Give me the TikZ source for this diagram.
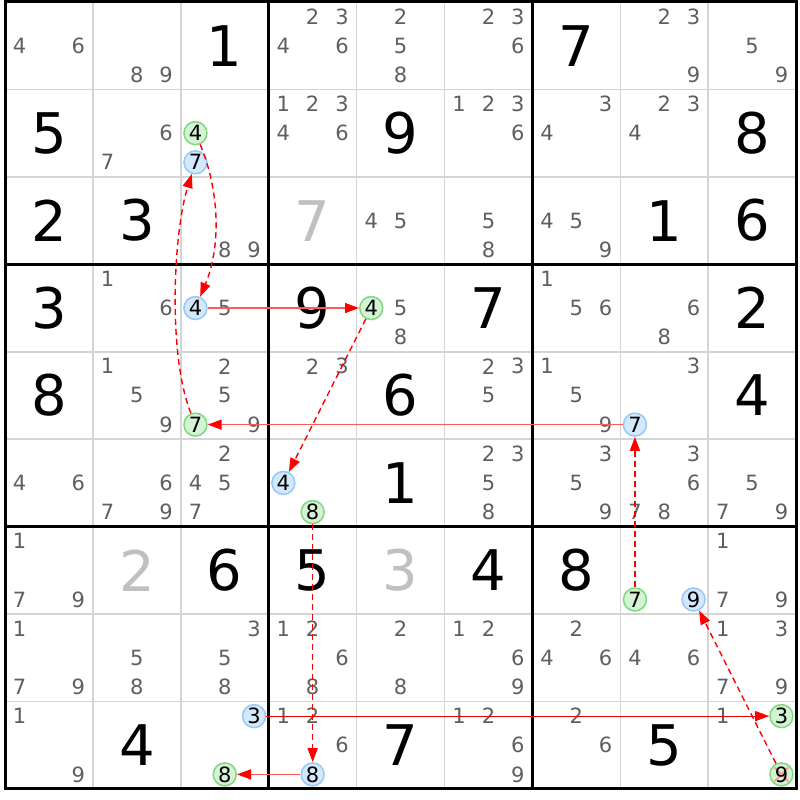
\documentclass[tikz,border=0pt]{standalone}
\usepackage{fontspec}
\setmainfont{DejaVu Sans}
\usetikzlibrary{arrows.meta}
\definecolor{candgray}{HTML}{5F5F5F}
\definecolor{givengray}{HTML}{C0C0C0}
\definecolor{gridgray}{HTML}{D4D4D4}
\definecolor{gfill}{HTML}{D4F2D4}
\definecolor{gline}{HTML}{80D880}
\definecolor{bfill}{HTML}{D4E8FC}
\definecolor{bline}{HTML}{96C8F8}
\definecolor{linkred}{HTML}{FF5A5A}
\definecolor{xred}{HTML}{F2A0A0}
\newcommand\sdGX{5}
\newcommand\sdGY{2}
\newcommand\sdCW{87.9}
\newcommand\sdCH{87.44}
\tikzset{
 cand/.style={text=candgray, font=\fontsize{21}{21}\selectfont, inner sep=0pt},
 big/.style={text=black, font=\fontsize{56}{56}\selectfont, inner sep=0pt},
 biggray/.style={big, text=givengray},
 hlg/.style={circle, draw=gline, fill=gfill, line width=1.5pt, minimum size=23pt, inner sep=0pt, text=black, font=\fontsize{21}{21}\selectfont},
 hlb/.style={hlg, draw=bline, fill=bfill},
 hlgx/.style={hlg, path picture={\draw[xred, line width=1.8pt]
   ([shift={(-7pt,-7pt)}]path picture bounding box.center) -- ([shift={(7pt,7pt)}]path picture bounding box.center)
   ([shift={(-7pt,7pt)}]path picture bounding box.center) -- ([shift={(7pt,-7pt)}]path picture bounding box.center);}},
 dashlink/.style={red, line width=1.4pt, dash pattern=on 6pt off 4pt, -{Triangle[length=14pt,width=10pt]}},
 solidlink/.style={linkred, line width=1.5pt, -{Triangle[length=14pt,width=10pt,color=red]}},
 solidlinkdark/.style={red!90!black, line width=1pt, -{Triangle[length=14pt,width=10pt,color=red]}},
}
\newcommand\sdcands[3]{\foreach \dg in {#3}{%
  \pgfmathsetmacro\px{\sdGX+\sdCW*#2+\sdCW/3*(mod(\dg-1,3)+0.5)}%
  \pgfmathsetmacro\py{\sdGY+\sdCH*#1+\sdCH/3*(int((\dg-1)/3)+0.5)}%
  \node[cand] (c#1#2\dg) at (\px,\py) {\dg};}}
\newcommand\sdval[4][big]{\node[#1] (v#2#3) at ({\sdGX+\sdCW*(#3+0.5)},{\sdGY+\sdCH*(#2+0.5)}) {#4};}
\newcommand\sdhl[4]{%
  \pgfmathsetmacro\px{\sdGX+\sdCW*#3+\sdCW/3*(mod(#4-1,3)+0.5)}%
  \pgfmathsetmacro\py{\sdGY+\sdCH*#2+\sdCH/3*(int((#4-1)/3)+0.5)}%
  \node[#1] (h#2#3#4) at (\px,\py) {#4};}
\begin{document}
\begin{tikzpicture}[x=1pt,y=-1pt]
\useasboundingbox[fill=white] (0,0) rectangle (800,800);
% grid
\foreach \i in {1,2,4,5,7,8}{
  \draw[gridgray, line width=1.5pt] ({\sdGX+\sdCW*\i},\sdGY) -- ({\sdGX+\sdCW*\i},{\sdGY+9*\sdCH});
  \draw[gridgray, line width=1.5pt] (\sdGX,{\sdGY+\sdCH*\i}) -- ({\sdGX+9*\sdCW},{\sdGY+\sdCH*\i});
}
\foreach \i in {3,6}{
  \draw[black, line width=3pt] ({\sdGX+\sdCW*\i},\sdGY) -- ({\sdGX+\sdCW*\i},{\sdGY+9*\sdCH});
  \draw[black, line width=3pt] (\sdGX,{\sdGY+\sdCH*\i}) -- ({\sdGX+9*\sdCW},{\sdGY+\sdCH*\i});
}
\draw[black, line width=3pt] (\sdGX,\sdGY) rectangle ({\sdGX+9*\sdCW},{\sdGY+9*\sdCH});
% row 0
\sdcands{0}{0}{4,6} \sdcands{0}{1}{8,9} \sdval{0}{2}{1} \sdcands{0}{3}{2,3,4,6} \sdcands{0}{4}{2,5,8}
\sdcands{0}{5}{2,3,6} \sdval{0}{6}{7} \sdcands{0}{7}{2,3,9} \sdcands{0}{8}{5,9}
% row 1
\sdval{1}{0}{5} \sdcands{1}{1}{6,7} \sdhl{hlg}{1}{2}{4} \sdhl{hlb}{1}{2}{7} \sdcands{1}{3}{1,2,3,4,6}
\sdval{1}{4}{9} \sdcands{1}{5}{1,2,3,6} \sdcands{1}{6}{3,4} \sdcands{1}{7}{2,3,4} \sdval{1}{8}{8}
% row 2
\sdval{2}{0}{2} \sdval{2}{1}{3} \sdcands{2}{2}{8,9} \sdval[biggray]{2}{3}{7} \sdcands{2}{4}{4,5}
\sdcands{2}{5}{5,8} \sdcands{2}{6}{4,5,9} \sdval{2}{7}{1} \sdval{2}{8}{6}
% row 3
\sdval{3}{0}{3} \sdcands{3}{1}{1,6} \sdhl{hlb}{3}{2}{4} \sdcands{3}{2}{5} \sdval{3}{3}{9}
\sdhl{hlg}{3}{4}{4} \sdcands{3}{4}{5,8} \sdval{3}{5}{7} \sdcands{3}{6}{1,5,6} \sdcands{3}{7}{6,8} \sdval{3}{8}{2}
% row 4
\sdval{4}{0}{8} \sdcands{4}{1}{1,5,9} \sdcands{4}{2}{2,5,9} \sdhl{hlg}{4}{2}{7} \sdcands{4}{3}{2,3}
\sdval{4}{4}{6} \sdcands{4}{5}{2,3,5} \sdcands{4}{6}{1,5,9} \sdcands{4}{7}{3} \sdhl{hlb}{4}{7}{7} \sdval{4}{8}{4}
% row 5
\sdcands{5}{0}{4,6} \sdcands{5}{1}{6,7,9} \sdcands{5}{2}{2,4,5,7} \sdhl{hlb}{5}{3}{4} \sdhl{hlg}{5}{3}{8}
\sdval{5}{4}{1} \sdcands{5}{5}{2,3,5,8} \sdcands{5}{6}{3,5,9} \sdcands{5}{7}{3,6,7,8} \sdcands{5}{8}{5,7,9}
% row 6
\sdcands{6}{0}{1,7,9} \sdval[biggray]{6}{1}{2} \sdval{6}{2}{6} \sdval{6}{3}{5} \sdval[biggray]{6}{4}{3}
\sdval{6}{5}{4} \sdval{6}{6}{8} \sdhl{hlg}{6}{7}{7} \sdhl{hlb}{6}{7}{9} \sdcands{6}{8}{1,7,9}
% row 7
\sdcands{7}{0}{1,7,9} \sdcands{7}{1}{5,8} \sdcands{7}{2}{3,5,8} \sdcands{7}{3}{1,2,6,8} \sdcands{7}{4}{2,8}
\sdcands{7}{5}{1,2,6,9} \sdcands{7}{6}{2,4,6} \sdcands{7}{7}{4,6} \sdcands{7}{8}{1,3,7,9}
% row 8
\sdcands{8}{0}{1,9} \sdval{8}{1}{4} \sdhl{hlb}{8}{2}{3} \sdhl{hlg}{8}{2}{8} \sdcands{8}{3}{1,2,6}
\sdhl{hlb}{8}{3}{8} \sdval{8}{4}{7} \sdcands{8}{5}{1,2,6,9} \sdcands{8}{6}{2,6} \sdval{8}{7}{5}
\sdcands{8}{8}{1} \sdhl{hlg}{8}{8}{3} \sdhl{hlgx}{8}{8}{9}
% links
\draw[dashlink] (h124) .. controls +(25,60) and +(25,-60) .. (h324);
\draw[solidlink] (h324) -- (h344);
\draw[dashlink] (h344) -- (h534);
\draw[dashlink] (h538) -- (h838);
\draw[solidlink] (h838) -- (h828);
\draw[solidlinkdark] (h823) -- (h883);
\draw[dashlink] (h889) -- (h679);
\draw[dashlink] (h677) -- (h477);
\draw[solidlink] (h477) -- (h427);
\draw[dashlink] (h427) .. controls +(-28,-70) and +(-22,70) .. (h127);
\end{tikzpicture}
\end{document}
